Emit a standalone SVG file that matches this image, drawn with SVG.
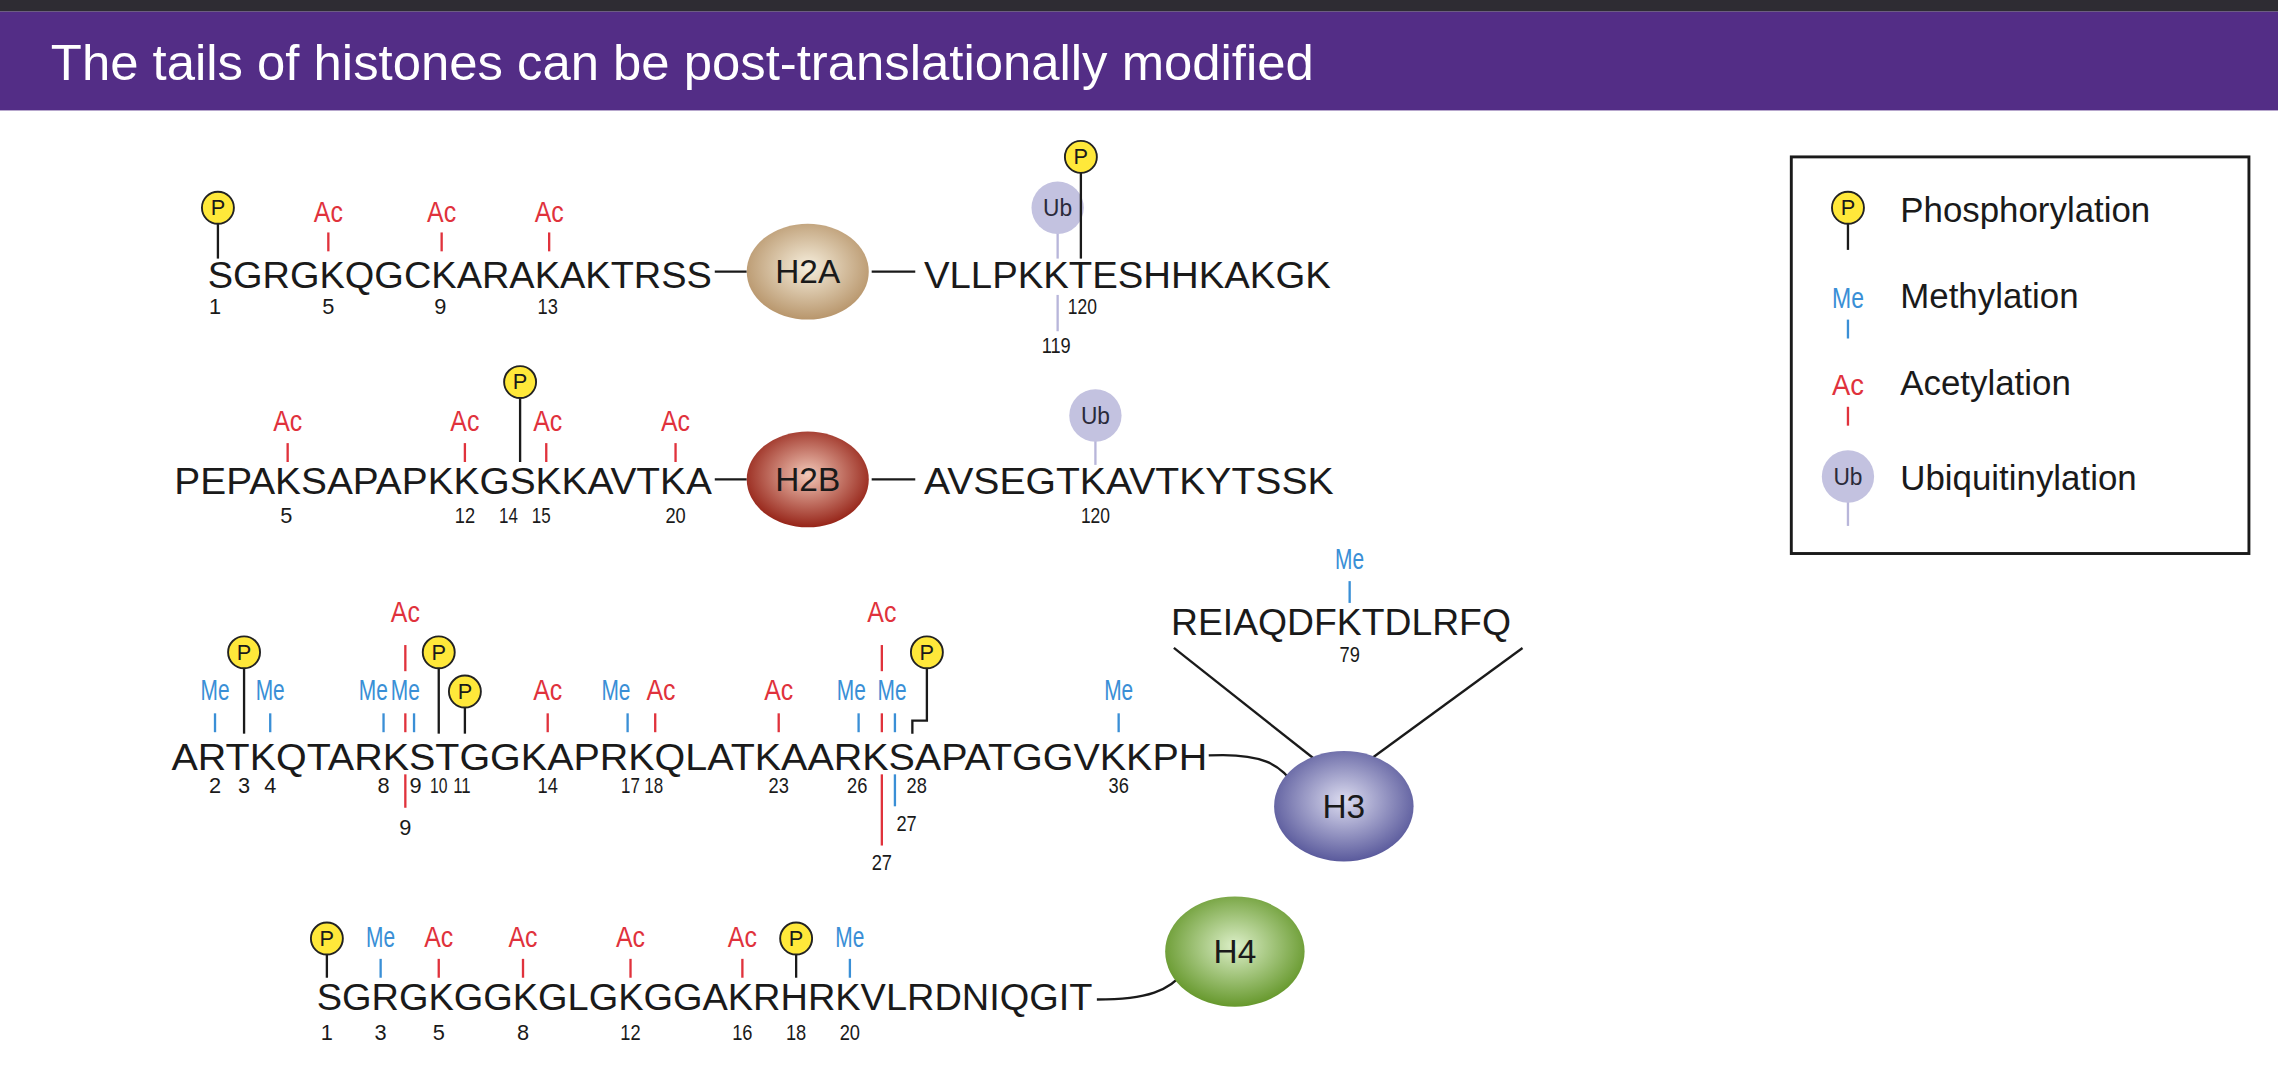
<svg xmlns="http://www.w3.org/2000/svg" width="2278" height="1076" viewBox="0 0 2278 1076">
<style>
text{font-family:"Liberation Sans",Arial,sans-serif}
.seq{font-size:25px;fill:#1a1a1a}
.num{font-size:15px;fill:#1a1a1a;text-anchor:middle}
.ac{font-size:20px;fill:#e0323c;text-anchor:middle}
.me{font-size:20px;fill:#3a8fd6;text-anchor:middle}
.pl{font-size:15px;fill:#1a1a1a;text-anchor:middle}
.ub{font-size:17px;fill:#2a2a3a;text-anchor:middle}
.tr{stroke:#e0323c;stroke-width:1.6}
.tb{stroke:#3a8fd6;stroke-width:1.6}
.tk{stroke:#1a1a1a;stroke-width:1.6;fill:none}
.tu{stroke:#b8b6da;stroke-width:1.6}
.pc{fill:#ffe83a;stroke:#222;stroke-width:1.3}
.uc{fill:#c3c2e0}
.hl{font-size:23px;fill:#1a1a1a;text-anchor:middle}
.leg{font-size:24px;fill:#1a1a1a}
</style>
<defs>
<radialGradient id="gA" cx="0.5" cy="0.45" r="0.55"><stop offset="0" stop-color="#f6eedc"/><stop offset="1" stop-color="#b8966c"/></radialGradient>
<radialGradient id="gB" cx="0.5" cy="0.45" r="0.55"><stop offset="0" stop-color="#f2c8b8"/><stop offset="1" stop-color="#962418"/></radialGradient>
<radialGradient id="g3" cx="0.5" cy="0.45" r="0.55"><stop offset="0" stop-color="#dcdcf0"/><stop offset="1" stop-color="#5a5a9c"/></radialGradient>
<radialGradient id="g4" cx="0.5" cy="0.45" r="0.55"><stop offset="0" stop-color="#dcefc8"/><stop offset="1" stop-color="#66982c"/></radialGradient>
</defs>
<rect width="2278" height="1076" fill="#fff"/>
<g transform="scale(1.4528)">
<rect x="0" y="0" width="1568" height="8" fill="#2e2c33"/>
<rect x="0" y="8" width="1568" height="68" fill="#532d86"/>
<text x="35" y="55" style="font-size:35px;fill:#fff">The tails of histones can be post-translationally modified</text>

<g id="connectors">
<line class="tk" x1="492" y1="187" x2="514" y2="187"/>
<line class="tk" x1="600" y1="187" x2="630" y2="187"/>
<line class="tk" x1="492" y1="330" x2="514" y2="330"/>
<line class="tk" x1="600" y1="330" x2="630" y2="330"/>
<path class="tk" d="M832,520 C868,518 882,526 892,542"/>
<line class="tk" x1="808" y1="446" x2="908" y2="525"/>
<line class="tk" x1="1048" y1="446" x2="940" y2="525"/>
<path class="tk" d="M755,688 C790,688 805,682 816,668"/>
</g>

<g id="H2A">
<ellipse cx="556" cy="187" rx="42" ry="33" fill="url(#gA)"/><text class="hl" x="556" y="195">H2A</text>
<text class="seq" x="143" y="198" textLength="347" lengthAdjust="spacingAndGlyphs">SGRGKQGCKARAKAKTRSS</text>
<text class="seq" x="636" y="198" textLength="280" lengthAdjust="spacingAndGlyphs">VLLPKKTESHHKAKGK</text>
<line class="tk" x1="150" y1="154" x2="150" y2="178"/><circle class="pc" cx="150" cy="143" r="11"/><text class="pl" x="150" y="148">P</text>
<text class="ac" x="226" y="153" textLength="20" lengthAdjust="spacingAndGlyphs">Ac</text><line class="tr" x1="226" y1="160" x2="226" y2="173"/>
<text class="ac" x="304" y="153" textLength="20" lengthAdjust="spacingAndGlyphs">Ac</text><line class="tr" x1="304" y1="160" x2="304" y2="173"/>
<text class="ac" x="378" y="153" textLength="20" lengthAdjust="spacingAndGlyphs">Ac</text><line class="tr" x1="378" y1="160" x2="378" y2="173"/>
<text class="num" x="148" y="216">1</text><text class="num" x="226" y="216">5</text><text class="num" x="303" y="216">9</text><text class="num" x="377" y="216" textLength="14" lengthAdjust="spacingAndGlyphs">13</text>
<line class="tu" x1="728" y1="150" x2="728" y2="178"/><circle class="uc" cx="728" cy="143" r="18"/><text class="ub" x="728" y="149" textLength="20" lengthAdjust="spacingAndGlyphs">Ub</text>
<line class="tk" x1="744" y1="115" x2="744" y2="178"/><circle class="pc" cx="744" cy="108" r="11"/><text class="pl" x="744" y="113">P</text>
<line class="tu" x1="728" y1="203" x2="728" y2="228"/>
<text class="num" x="745" y="216" textLength="20" lengthAdjust="spacingAndGlyphs">120</text><text class="num" x="727" y="243" textLength="20" lengthAdjust="spacingAndGlyphs">119</text>
</g>

<g id="H2B">
<ellipse cx="556" cy="330" rx="42" ry="33" fill="url(#gB)"/><text class="hl" x="556" y="338">H2B</text>
<text class="seq" x="120" y="340" textLength="370" lengthAdjust="spacingAndGlyphs">PEPAKSAPAPKKGSKKAVTKA</text>
<text class="seq" x="636" y="340" textLength="282" lengthAdjust="spacingAndGlyphs">AVSEGTKAVTKYTSSK</text>
<text class="ac" x="198" y="297" textLength="20" lengthAdjust="spacingAndGlyphs">Ac</text><line class="tr" x1="198" y1="305" x2="198" y2="318"/>
<text class="ac" x="320" y="297" textLength="20" lengthAdjust="spacingAndGlyphs">Ac</text><line class="tr" x1="320" y1="305" x2="320" y2="318"/>
<line class="tk" x1="358" y1="270" x2="358" y2="318"/><circle class="pc" cx="358" cy="263" r="11"/><text class="pl" x="358" y="268">P</text>
<text class="ac" x="377" y="297" textLength="20" lengthAdjust="spacingAndGlyphs">Ac</text><line class="tr" x1="376" y1="305" x2="376" y2="318"/>
<text class="ac" x="465" y="297" textLength="20" lengthAdjust="spacingAndGlyphs">Ac</text><line class="tr" x1="465" y1="305" x2="465" y2="318"/>
<text class="num" x="197" y="360">5</text><text class="num" x="320" y="360" textLength="14" lengthAdjust="spacingAndGlyphs">12</text><text class="num" x="350" y="360" textLength="13" lengthAdjust="spacingAndGlyphs">14</text><text class="num" x="366" y="360" textLength="13" lengthAdjust="spacingAndGlyphs" style="text-anchor:start">15</text><text class="num" x="465" y="360" textLength="14" lengthAdjust="spacingAndGlyphs">20</text>
<line class="tu" x1="754" y1="300" x2="754" y2="320"/><circle class="uc" cx="754" cy="286" r="18"/><text class="ub" x="754" y="292" textLength="20" lengthAdjust="spacingAndGlyphs">Ub</text>
<text class="num" x="754" y="360" textLength="20" lengthAdjust="spacingAndGlyphs">120</text>
</g>

<g id="H3">
<ellipse cx="925" cy="555" rx="48" ry="38" fill="url(#g3)"/><text class="hl" x="925" y="563">H3</text>
<text class="seq" x="118" y="530" textLength="713" lengthAdjust="spacingAndGlyphs">ARTKQTARKSTGGKAPRKQLATKAARKSAPATGGVKKPH</text>
<text class="seq" x="806" y="437" textLength="234" lengthAdjust="spacingAndGlyphs">REIAQDFKTDLRFQ</text>
<text class="me" x="929" y="392" textLength="20" lengthAdjust="spacingAndGlyphs">Me</text><line class="tb" x1="929" y1="400" x2="929" y2="415"/><text class="num" x="929" y="456" textLength="14" lengthAdjust="spacingAndGlyphs">79</text>
<text class="me" x="148" y="482" textLength="20" lengthAdjust="spacingAndGlyphs">Me</text><line class="tb" x1="148" y1="491" x2="148" y2="504"/>
<line class="tk" x1="168" y1="460" x2="168" y2="505"/><circle class="pc" cx="168" cy="449" r="11"/><text class="pl" x="168" y="454">P</text>
<text class="me" x="186" y="482" textLength="20" lengthAdjust="spacingAndGlyphs">Me</text><line class="tb" x1="186" y1="491" x2="186" y2="504"/>
<text class="me" x="257" y="482" textLength="20" lengthAdjust="spacingAndGlyphs">Me</text><line class="tb" x1="264" y1="491" x2="264" y2="504"/>
<text class="me" x="279" y="482" textLength="20" lengthAdjust="spacingAndGlyphs">Me</text><line class="tb" x1="285" y1="491" x2="285" y2="504"/>
<text class="ac" x="279" y="428" textLength="20" lengthAdjust="spacingAndGlyphs">Ac</text><line class="tr" x1="279" y1="444" x2="279" y2="462"/><line class="tr" x1="279" y1="491" x2="279" y2="504"/>
<line class="tk" x1="302" y1="460" x2="302" y2="505"/><circle class="pc" cx="302" cy="449" r="11"/><text class="pl" x="302" y="454">P</text>
<line class="tk" x1="320" y1="487" x2="320" y2="505"/><circle class="pc" cx="320" cy="476" r="11"/><text class="pl" x="320" y="481">P</text>
<text class="ac" x="377" y="482" textLength="20" lengthAdjust="spacingAndGlyphs">Ac</text><line class="tr" x1="377" y1="491" x2="377" y2="504"/>
<text class="me" x="424" y="482" textLength="20" lengthAdjust="spacingAndGlyphs">Me</text><line class="tb" x1="432" y1="491" x2="432" y2="504"/>
<text class="ac" x="455" y="482" textLength="20" lengthAdjust="spacingAndGlyphs">Ac</text><line class="tr" x1="451" y1="491" x2="451" y2="504"/>
<text class="ac" x="536" y="482" textLength="20" lengthAdjust="spacingAndGlyphs">Ac</text><line class="tr" x1="536" y1="491" x2="536" y2="504"/>
<text class="me" x="586" y="482" textLength="20" lengthAdjust="spacingAndGlyphs">Me</text><line class="tb" x1="591" y1="491" x2="591" y2="504"/>
<text class="me" x="614" y="482" textLength="20" lengthAdjust="spacingAndGlyphs">Me</text><line class="tb" x1="616" y1="491" x2="616" y2="504"/>
<text class="ac" x="607" y="428" textLength="20" lengthAdjust="spacingAndGlyphs">Ac</text><line class="tr" x1="607" y1="444" x2="607" y2="462"/><line class="tr" x1="607" y1="491" x2="607" y2="504"/>
<path class="tk" d="M638,460 V496 H628 V505"/><circle class="pc" cx="638" cy="449" r="11"/><text class="pl" x="638" y="454">P</text>
<text class="me" x="770" y="482" textLength="20" lengthAdjust="spacingAndGlyphs">Me</text><line class="tb" x1="770" y1="491" x2="770" y2="504"/>
<line class="tr" x1="279" y1="533" x2="279" y2="556"/><text class="num" x="279" y="575">9</text>
<line class="tr" x1="607" y1="533" x2="607" y2="582"/><text class="num" x="607" y="599" textLength="14" lengthAdjust="spacingAndGlyphs">27</text>
<line class="tb" x1="616" y1="533" x2="616" y2="555"/><text class="num" x="624" y="572" textLength="14" lengthAdjust="spacingAndGlyphs">27</text>
<text class="num" x="148" y="546">2</text><text class="num" x="168" y="546">3</text><text class="num" x="186" y="546">4</text>
<text class="num" x="264" y="546">8</text><text class="num" x="286" y="546">9</text><text class="num" x="302" y="546" textLength="12" lengthAdjust="spacingAndGlyphs">10</text><text class="num" x="318" y="546" textLength="12" lengthAdjust="spacingAndGlyphs">11</text>
<text class="num" x="377" y="546" textLength="14" lengthAdjust="spacingAndGlyphs">14</text><text class="num" x="434" y="546" textLength="13" lengthAdjust="spacingAndGlyphs">17</text><text class="num" x="450" y="546" textLength="13" lengthAdjust="spacingAndGlyphs">18</text>
<text class="num" x="536" y="546" textLength="14" lengthAdjust="spacingAndGlyphs">23</text><text class="num" x="590" y="546" textLength="14" lengthAdjust="spacingAndGlyphs">26</text><text class="num" x="631" y="546" textLength="14" lengthAdjust="spacingAndGlyphs">28</text><text class="num" x="770" y="546" textLength="14" lengthAdjust="spacingAndGlyphs">36</text>
</g>

<g id="H4">
<ellipse cx="850" cy="655" rx="48" ry="38" fill="url(#g4)"/><text class="hl" x="850" y="663">H4</text>
<text class="seq" x="218" y="695" textLength="534" lengthAdjust="spacingAndGlyphs">SGRGKGGKGLGKGGAKRHRKVLRDNIQGIT</text>
<line class="tk" x1="225" y1="657" x2="225" y2="673"/><circle class="pc" cx="225" cy="646" r="11"/><text class="pl" x="225" y="651">P</text>
<text class="me" x="262" y="652" textLength="20" lengthAdjust="spacingAndGlyphs">Me</text><line class="tb" x1="262" y1="660" x2="262" y2="673"/>
<text class="ac" x="302" y="652" textLength="20" lengthAdjust="spacingAndGlyphs">Ac</text><line class="tr" x1="302" y1="660" x2="302" y2="673"/>
<text class="ac" x="360" y="652" textLength="20" lengthAdjust="spacingAndGlyphs">Ac</text><line class="tr" x1="360" y1="660" x2="360" y2="673"/>
<text class="ac" x="434" y="652" textLength="20" lengthAdjust="spacingAndGlyphs">Ac</text><line class="tr" x1="434" y1="660" x2="434" y2="673"/>
<text class="ac" x="511" y="652" textLength="20" lengthAdjust="spacingAndGlyphs">Ac</text><line class="tr" x1="511" y1="660" x2="511" y2="673"/>
<line class="tk" x1="548" y1="657" x2="548" y2="673"/><circle class="pc" cx="548" cy="646" r="11"/><text class="pl" x="548" y="651">P</text>
<text class="me" x="585" y="652" textLength="20" lengthAdjust="spacingAndGlyphs">Me</text><line class="tb" x1="585" y1="660" x2="585" y2="673"/>
<text class="num" x="225" y="716">1</text><text class="num" x="262" y="716">3</text><text class="num" x="302" y="716">5</text><text class="num" x="360" y="716">8</text>
<text class="num" x="434" y="716" textLength="14" lengthAdjust="spacingAndGlyphs">12</text><text class="num" x="511" y="716" textLength="14" lengthAdjust="spacingAndGlyphs">16</text><text class="num" x="548" y="716" textLength="14" lengthAdjust="spacingAndGlyphs">18</text><text class="num" x="585" y="716" textLength="14" lengthAdjust="spacingAndGlyphs">20</text>
</g>

<g id="legend">
<rect x="1233" y="108" width="315" height="273" fill="none" stroke="#1a1a1a" stroke-width="2"/>
<line class="tk" x1="1272" y1="154" x2="1272" y2="172"/><circle class="pc" cx="1272" cy="143" r="11"/><text class="pl" x="1272" y="148">P</text>
<text class="leg" x="1308" y="153">Phosphorylation</text>
<text class="me" x="1272" y="212" textLength="22" lengthAdjust="spacingAndGlyphs">Me</text><line class="tb" x1="1272" y1="220" x2="1272" y2="233"/>
<text class="leg" x="1308" y="212">Methylation</text>
<text class="ac" x="1272" y="272" textLength="22" lengthAdjust="spacingAndGlyphs">Ac</text><line class="tr" x1="1272" y1="280" x2="1272" y2="293"/>
<text class="leg" x="1308" y="272">Acetylation</text>
<line class="tu" x1="1272" y1="340" x2="1272" y2="362"/><circle class="uc" cx="1272" cy="328" r="18"/><text class="ub" x="1272" y="334" textLength="20" lengthAdjust="spacingAndGlyphs">Ub</text>
<text class="leg" x="1308" y="337">Ubiquitinylation</text>
</g>
</g>
</svg>
